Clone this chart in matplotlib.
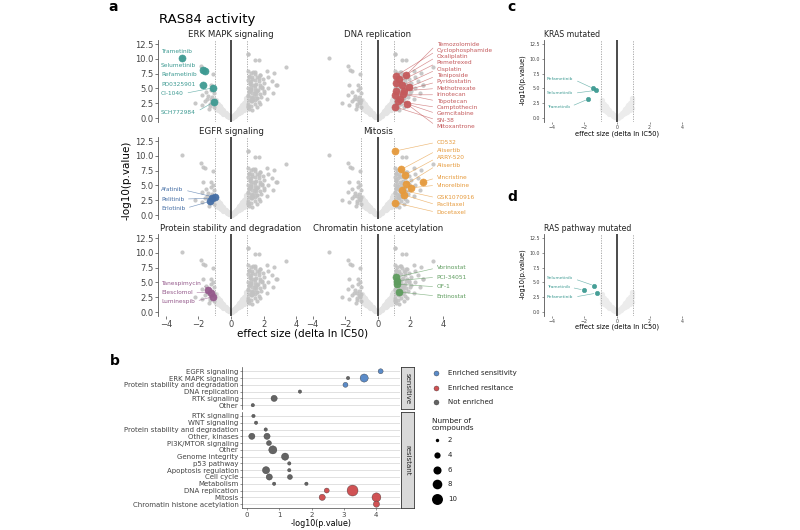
import matplotlib
matplotlib.use("Agg")
import matplotlib.pyplot as plt

W, H = 800, 530


def fx(px):
    return px / W


def fy(py):
    return 1 - py / H


# ─────────────────────────────────────────────
# Volcano data: effect size (delta ln IC50), -log10(p.value)
# ─────────────────────────────────────────────

# faint non-significant compounds around zero
cloud_x = [-0.05, -0.15, -0.25, -0.1, -0.2, -0.3, -0.35, -0.4, -0.45, -0.5, -0.55, -0.6,
           -0.65, -0.7, -0.75, -0.8, -0.85, -0.9, -0.95, -0.5, -0.7, -0.9, -0.6, -0.8,
           0.05, 0.15, 0.25, 0.1, 0.2, 0.3, 0.35, 0.4, 0.45, 0.5, 0.55, 0.6,
           0.65, 0.7, 0.75, 0.8, 0.85, 0.9, 0.95, 0.5, 0.7, 0.9, 0.6, 0.8, 0.95, -0.95]
cloud_y = [0.1, 0.1, 0.3, 0.2, 0.5, 0.8, 0.6, 1.1, 0.9, 1.4, 1.1, 1.7,
           1.4, 2.0, 1.6, 2.4, 1.9, 2.7, 2.2, 0.7, 1.2, 1.6, 1.0, 1.3,
           0.05, 0.1, 0.3, 0.2, 0.5, 0.9, 0.6, 1.2, 0.9, 1.5, 1.2, 1.9,
           1.5, 2.2, 1.8, 2.6, 2.1, 3.0, 2.5, 0.8, 1.3, 1.7, 1.0, 1.4, 3.4, 3.0]

# grey compounds outside the highlighted pathways
other_x = [-2.2, -1.85, -1.1, -1.8, -1.55, -1.2, -1.15, -1.45, -1.05, -1.3, -1.6, -1.05,
           -1.2, -1.35, -1.75,
           1.05, 1.2, 1.35, 1.5, 1.1, 1.3, 1.6, 1.8, 1.05, 1.25, 1.45, 1.7, 1.95,
           1.15, 1.35, 1.55, 1.8, 2.05, 1.05, 1.25, 1.45, 1.65, 1.9, 1.1, 1.3, 1.5,
           1.75, 2.0, 1.05, 1.2, 1.4, 1.6, 1.85, 1.1, 1.3, 1.5, 1.7, 1.05, 1.25,
           1.45, 1.6, 1.1, 1.3,
           1.47, 1.74, 3.37, 2.2, 2.65, 2.3, 2.5, 2.8, 2.3, 2.6, 2.2, 1.05]
other_y = [2.6, 8.8, 7.4, 3.9, 4.4, 4.8, 3.6, 3.2, 4.2, 2.1, 2.9, 1.8,
           5.6, 1.6, 2.2,
           7.9, 7.6, 7.8, 7.4, 7.0, 6.9, 7.0, 7.3, 6.4, 6.2, 6.5, 6.3, 6.6,
           5.7, 5.5, 5.8, 5.6, 5.9, 5.1, 4.9, 5.0, 4.8, 5.0, 4.4, 4.2, 4.5,
           4.1, 4.3, 3.7, 3.5, 3.8, 3.4, 3.6, 3.0, 2.8, 3.0, 2.7, 2.3, 2.1,
           2.3, 1.9, 1.6, 1.4,
           9.85, 9.85, 8.6, 7.9, 7.6, 7.0, 6.2, 5.5, 5.1, 4.2, 3.3, 10.8]

erk_names = ["Trametinib", "Selumetinib", "Refametinib", "PD0325901", "CI-1040", "SCH772984"]
erk_x = [-2.99, -1.72, -1.60, -1.74, -1.10, -1.06]
erk_y = [10.1, 8.15, 7.95, 5.5, 5.1, 2.7]

egfr_names = ["Afatinib", "Pelitinib", "Erlotinib"]
egfr_x = [-1.0, -1.15, -1.3]
egfr_y = [3.0, 2.85, 2.3]

prot_names = ["Tanespimycin", "Elesclomol", "Luminespib"]
prot_x = [-1.4, -1.25, -1.1]
prot_y = [3.8, 3.2, 2.6]

dna_names = ["Temozolomide", "Cyclophosphamide", "Oxaliplatin", "Pemetrexed", "Cisplatin",
             "Teniposide", "Pyridostatin", "Methotrexate", "Irinotecan", "Topotecan",
             "Camptothecin", "Gemcitabine", "SN-38", "Mitoxantrone"]
dna_x = [1.75, 1.1, 1.3, 1.15, 1.5, 1.9, 1.6, 1.1, 1.05, 1.55, 1.25, 1.8, 1.05, 1.35]
dna_y = [7.3, 7.1, 6.6, 5.9, 5.5, 5.2, 4.6, 4.5, 3.9, 4.05, 2.8, 2.4, 1.9, 3.3]

mit_names = ["CD532", "Alisertib", "ARRY-520", "Alisertib", "Vincristine", "Vinorelbine",
             "GSK1070916", "Paclitaxel", "Docetaxel"]
mit_x = [1.05, 1.45, 1.7, 1.75, 2.75, 2.05, 1.5, 1.6, 1.05]
mit_y = [10.8, 7.7, 6.8, 5.2, 5.6, 4.6, 4.2, 3.4, 2.1]

chrom_names = ["Vorinostat", "PCI-34051", "OF-1", "Entinostat"]
chrom_x = [1.15, 1.2, 1.2, 1.3]
chrom_y = [5.9, 5.3, 4.7, 3.4]

kras_names = ["Refametinib", "Selumetinib", "Trametinib"]
kras_x = [-1.46, -1.31, -1.77]
kras_y = [5.0, 4.67, 3.2]

raspw_names = ["Selumetinib", "Trametinib", "Refametinib"]
raspw_x = [-1.4, -2.03, -1.25]
raspw_y = [4.45, 3.7, 3.2]

# label placement (data coords of each panel)
LABEL_X = {"left": -4.29, "right": 3.62}
erk_label_y = [11.3, 8.95, 7.35, 5.74, 4.14, 1.0]
egfr_label_y = [4.26, 2.7, 1.13]
prot_label_y = [4.9, 3.37, 1.8]
dna_label_y = [12.45, 11.37, 10.35, 9.3, 8.2, 7.15, 6.1, 5.0, 3.94, 2.87, 1.8, 0.73, -0.34, -1.4]
mit_label_y = [12.3, 10.9, 9.65, 8.4, 6.3, 5.05, 2.9, 1.7, 0.45]
chrom_label_y = [7.46, 5.9, 4.26, 2.7]
kras_label_y = [6.55, 4.17, 1.9]
raspw_label_y = [5.67, 4.2, 2.5]

PATHWAYS = [
    # title, names, x, y, colour, side, label y, column, row
    ("ERK MAPK signaling", erk_names, erk_x, erk_y, "#3d9a92", "left", erk_label_y, 0, 0),
    ("DNA replication", dna_names, dna_x, dna_y, "#c45a5c", "right", dna_label_y, 1, 0),
    ("EGFR signaling", egfr_names, egfr_x, egfr_y, "#466fa6", "left", egfr_label_y, 0, 1),
    ("Mitosis", mit_names, mit_x, mit_y, "#e69a3c", "right", mit_label_y, 1, 1),
    ("Protein stability and degradation", prot_names, prot_x, prot_y, "#955a8c", "left", prot_label_y, 0, 2),
    ("Chromatin histone acetylation", chrom_names, chrom_x, chrom_y, "#5e9c5e", "right", chrom_label_y, 1, 2),
]

# ─────────────────────────────────────────────
# Enrichment dot plot data (panel b)
# ─────────────────────────────────────────────

sens_cats = ["EGFR signaling", "ERK MAPK signaling", "Protein stability and degradation",
             "DNA replication", "RTK signaling", "Other"]
sens_row = [0, 1, 1, 2, 3, 4, 5]
sens_val = [4.14, 3.13, 3.63, 3.05, 1.64, 0.84, 0.18]
sens_n = [3, 2, 6, 3, 2, 4, 2]
sens_cls = ["sens", "none", "sens", "sens", "none", "none", "none"]

res_cats = ["RTK signaling", "WNT signaling", "Protein stability and degradation",
            "Other, kinases", "PI3K/MTOR signaling", "Other", "Genome integrity",
            "p53 pathway", "Apoptosis regulation", "Cell cycle", "Metabolism",
            "DNA replication", "Mitosis", "Chromatin histone acetylation"]
res_row = [0, 1, 2, 3, 3, 4, 5, 6, 7, 8, 8, 9, 9, 10, 10, 11, 11, 12, 12, 13]
res_val = [0.2, 0.28, 0.58, 0.15, 0.62, 0.68, 0.8, 1.18, 1.31, 0.59, 1.31, 0.69, 1.33,
           0.84, 1.84, 2.47, 3.27, 2.33, 4.01, 4.01]
res_n = [2, 2, 2, 4, 4, 3, 6, 5, 2, 5, 2, 4, 3, 2, 2, 3, 10, 4, 7, 4]
res_cls = ["none"] * 15 + ["res"] * 5

CLS_COLOR = {"sens": "#5b8bc8", "res": "#d05254", "none": "#646464"}
CLS_LABEL = {"sens": "Enriched sensitivity", "res": "Enriched resitance", "none": "Not enriched"}
legend_counts = [2, 4, 6, 8, 10]


def dot_size(n):
    return 7.0 * n - 8


# ─────────────────────────────────────────────
# Figure
# ─────────────────────────────────────────────

fig = plt.figure(figsize=(8, 5.3), dpi=100)

VOL_W = 146.7
VOL_H = 81.7
col_left = [157.65, 304.35]
row_bottom = [121.6, 218.6, 315.6]


def vol_axes(left_px, bottom_px):
    return fig.add_axes([fx(left_px), fy(bottom_px), VOL_W / W, VOL_H / H])


def base_volcano(ax, cloud_color="#e4e4e4"):
    ax.scatter(cloud_x, cloud_y, s=14, color=cloud_color, lw=0, zorder=1)
    ax.axvline(0, color="#1a1a1a", lw=1.1, zorder=2)
    for v in (-1, 1):
        ax.axvline(v, color="#a0a0a0", lw=0.6, ls=(0, (1.5, 1.5)), zorder=2)
    ax.set_xlim(-4.5, 4.5)
    ax.set_ylim(-0.6, 13.2)
    ax.set_xticks([-4, -2, 0, 2, 4])
    ax.set_yticks([0, 2.5, 5, 7.5, 10, 12.5])
    ax.set_yticklabels(["0.0", "2.5", "5.0", "7.5", "10.0", "12.5"])
    for s in ("top", "right", "bottom"):
        ax.spines[s].set_visible(False)
    ax.spines["left"].set_color("#555")
    ax.spines["left"].set_linewidth(0.6)
    ax.set_facecolor("none")


def highlight(ax, names, xs, ys, color, side, label_y, fs, size):
    ax.scatter(xs, ys, s=size, color=color, edgecolor=color, lw=0.4, alpha=0.95, zorder=5)
    lx = LABEL_X[side]
    for name, x, y, ly in zip(names, xs, ys, label_y):
        ax.annotate(name, xy=(x, y), xytext=(lx, ly), fontsize=fs, color=color,
                    ha="left", va="center", annotation_clip=False, zorder=6,
                    arrowprops=dict(arrowstyle="-", color=color, lw=0.45, alpha=0.7,
                                    shrinkA=1, shrinkB=2,
                                    relpos=(1, 0.5) if side == "left" else (0, 0.5)))


# panel a
for title, names, xs, ys, color, side, label_y, col, row in PATHWAYS:
    ax = vol_axes(col_left[col], row_bottom[row])
    base_volcano(ax)
    ax.scatter(other_x, other_y, s=9, color="#c2c2c2", lw=0, alpha=0.9, zorder=3)
    for p in PATHWAYS:
        if p[0] != title:
            ax.scatter(p[2], p[3], s=9, color="#c2c2c2", lw=0, alpha=0.9, zorder=3)
    highlight(ax, names, xs, ys, color, side, label_y, 4.2, 26)
    ax.set_title(title, fontsize=6.2, pad=2, color="#222")
    ax.tick_params(labelsize=6, length=2, width=0.5, colors="#444", pad=1)
    if col == 1:
        ax.spines["left"].set_visible(False)
        ax.tick_params(axis="y", left=False, labelleft=False)
    if row < 2:
        ax.tick_params(axis="x", bottom=False, labelbottom=False)

fig.text(fx(159), fy(19), "RAS84 activity", fontsize=9.5, va="center", ha="left")
fig.text(fx(127), fy(180), "-log10(p.value)", fontsize=7.5, rotation=90, va="center", ha="center")
fig.text(fx(303), fy(333), "effect size (delta ln IC50)", fontsize=7.5, va="center", ha="center")

# panels c and d
for title, names, xs, ys, label_y, bottom_px, ylab_y, xlab_y in [
        ("KRAS mutated", kras_names, kras_x, kras_y, kras_label_y, 121.6, 80, 134),
        ("RAS pathway mutated", raspw_names, raspw_x, raspw_y, raspw_label_y, 315.6, 274, 327)]:
    ax = vol_axes(543.65, bottom_px)
    base_volcano(ax, cloud_color="#ececec")
    highlight(ax, names, xs, ys, "#3d9a92", "left", label_y, 3.2, 10)
    ax.set_title(title, fontsize=5.6, pad=2, loc="left", color="#222")
    ax.tick_params(labelsize=3.4, length=1.5, width=0.4, colors="#444", pad=1)
    fig.text(fx(522.7), fy(ylab_y), "-log10(p.value)", fontsize=4.8, rotation=90,
             va="center", ha="center")
    fig.text(fx(617), fy(xlab_y), "effect size (delta ln IC50)", fontsize=4.8,
             va="center", ha="center")

# panel b
ROW_PX = 6.78
b_left, b_width = 242, 158
for cats, rows, vals, ns, cls, top_px, strip_label in [
        (sens_cats, sens_row, sens_val, sens_n, sens_cls, 367.2, "sensitive"),
        (res_cats, res_row, res_val, res_n, res_cls, 411.9, "resistant")]:
    nrow = len(cats)
    h_px = (nrow + 0.2) * ROW_PX
    ax = fig.add_axes([fx(b_left), fy(top_px + h_px), b_width / W, h_px / H])
    ax.set_ylim(nrow - 0.4, -0.6)
    ax.set_xlim(-0.155, 4.74)
    ax.set_yticks(range(nrow))
    ax.set_yticklabels(cats)
    ax.yaxis.grid(True, color="#dcdcdc", lw=0.6)
    ax.set_axisbelow(True)
    ax.scatter(vals, rows, s=[dot_size(n) for n in ns],
               c=[CLS_COLOR[c] for c in cls], edgecolors="#333", linewidths=0.25, zorder=3)
    for s in ("top", "right"):
        ax.spines[s].set_visible(False)
    for s in ("left", "bottom"):
        ax.spines[s].set_color("#444")
        ax.spines[s].set_linewidth(0.5)
    ax.tick_params(labelsize=5, length=1.5, width=0.4, colors="#444", pad=1)
    if strip_label == "sensitive":
        ax.spines["bottom"].set_visible(False)
        ax.tick_params(axis="x", bottom=False, labelbottom=False)
    else:
        ax.set_xticks([0, 1, 2, 3, 4])
        ax.set_xlabel("-log10(p.value)", fontsize=5.8, labelpad=1)
    sax = fig.add_axes([fx(401), fy(top_px + h_px), 13 / W, h_px / H])
    sax.set_facecolor("#d9d9d9")
    sax.set_xticks([])
    sax.set_yticks([])
    for s in sax.spines.values():
        s.set_color("#333")
        s.set_linewidth(0.6)
    sax.text(0.5, 0.5, strip_label, rotation=-90, ha="center", va="center",
             fontsize=5, color="#222", transform=sax.transAxes)

# legend for panel b
lax = fig.add_axes([fx(425), fy(510), 120 / W, 145 / H])
lax.set_xlim(425, 545)
lax.set_ylim(510, 365)
lax.axis("off")
for i, c in enumerate(["sens", "res", "none"]):
    yy = 373 + i * 14.5
    lax.scatter([436], [yy], s=dot_size(3), color=CLS_COLOR[c], edgecolors="#333", linewidths=0.25)
    lax.text(448, yy, CLS_LABEL[c], fontsize=5, va="center", ha="left", color="#222")
lax.text(431.5, 424.5, "Number of\ncompounds", fontsize=5.3, va="center", ha="left",
         color="#222", linespacing=1.1)
for i, n in enumerate(legend_counts):
    yy = 440 + i * 14.8
    lax.scatter([436.7], [yy], s=dot_size(n), color="black", lw=0)
    lax.text(448, yy, str(n), fontsize=5, va="center", ha="left", color="#222")

# panel letters
for letter, x, y in [("a", 108, 11), ("b", 110, 365), ("c", 507, 11), ("d", 507, 201)]:
    fig.text(fx(x), fy(y), letter, fontsize=10, fontweight="bold", va="baseline", ha="left")

fig.savefig("out.png", dpi=100)
